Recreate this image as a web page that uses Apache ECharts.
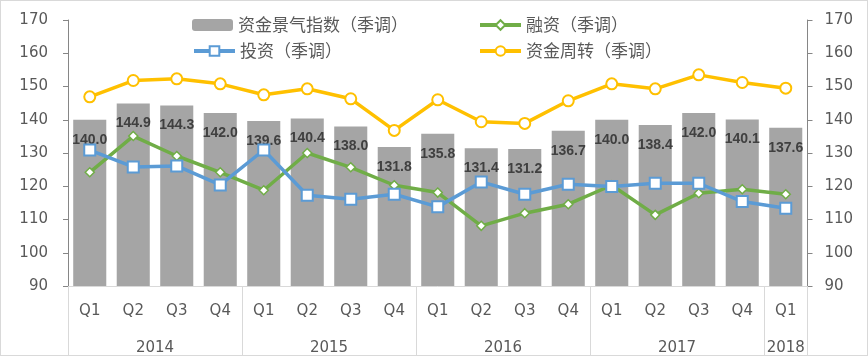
<!DOCTYPE html>
<html><head><meta charset="utf-8">
<script src="https://cdn.jsdelivr.net/npm/echarts@6/dist/echarts.min.js"></script>
<style>
html,body{margin:0;padding:0;background:#fff;}
#wrap{position:relative;width:868px;height:356px;}
#c{width:868px;height:356px;}
#frame{position:absolute;left:0;top:0;width:868px;height:356px;box-sizing:border-box;border:1px solid #d9d9d9;pointer-events:none;}
</style></head>
<body><div id="wrap"><div id="c"></div><div id="frame"></div></div>
<script>
const quarters = ['Q1','Q2','Q3','Q4','Q1','Q2','Q3','Q4','Q1','Q2','Q3','Q4','Q1','Q2','Q3','Q4','Q1'];
const years = ['2014','2014','2014','2014','2015','2015','2015','2015','2016','2016','2016','2016','2017','2017','2017','2017','2018'];
const yTicks = [90, 170, 10];
const indexVals = [140.0,144.9,144.3,142.0,139.6,140.4,138.0,131.8,135.8,131.4,131.2,136.7,140.0,138.4,142.0,140.1,137.6];
const financing = [124.2,135.1,129.1,124.2,118.8,130.0,125.7,120.3,118.1,108.1,111.9,114.6,120.3,111.4,117.9,119.1,117.6];
const investment = [130.9,125.8,126.1,120.4,130.9,117.3,116.1,117.6,113.8,121.3,117.6,120.6,119.9,120.9,120.9,115.4,113.4];
const turnover = [146.9,151.8,152.3,150.8,147.5,149.3,146.3,136.8,146.0,139.4,138.9,145.7,150.8,149.3,153.5,151.2,149.5];
const names = ['资金景气指数（季调）','融资（季调）','投资（季调）','资金周转（季调）'];

const chart = echarts.init(document.getElementById('c'));
const numFont = 'DejaVu Sans';
const cjkFont = 'Noto Sans CJK SC';
const legendText = {fontFamily: cjkFont, fontSize: 17, color: '#595959', lineHeight: 22};
function lg(name, left, top){
  return {data:[name], left:left, top:top, padding:0, itemWidth:41, itemHeight:12, itemGap:0,
    textStyle: legendText, selectedMode:false, lineStyle:{width:4}};
}
const option = {
  animation:false,
  backgroundColor:'#fff',
  grid:{left:68, right:60.5, top:20, bottom:69},
  legend:[lg(names[0],192,14), lg(names[1],478,14), lg(names[2],192,40), lg(names[3],478,40)],
  xAxis:[
    {type:'category', data:quarters, position:'bottom',
     axisLine:{show:true, lineStyle:{color:'#d9d9d9', width:1}},
     axisTick:{show:false},
     axisLabel:{interval:0, margin:18, fontFamily:numFont, fontSize:15, color:'#595959'}},
    {type:'category', data:years, position:'bottom',
     axisLine:{show:false}, axisTick:{show:false},
     axisLabel:{interval:0, margin:55, fontFamily:numFont, fontSize:15, color:'#595959',
       formatter:function(v, i){
         if (i===1||i===5||i===9||i===13) return '{s|'+v+'}';
         if (i===16) return v;
         return '';
       },
       rich:{s:{fontFamily:numFont, fontSize:15, color:'#595959', padding:[0,0,0,43.5]}}}},
    {type:'value', min:0, max:17, interval:4, position:'bottom',
     axisLine:{show:false}, axisLabel:{show:false}, splitLine:{show:false},
     axisTick:{show:true, length:69, lineStyle:{color:'#d9d9d9', width:1}}}
  ],
  yAxis:[
    {type:'value', min:yTicks[0], max:yTicks[1], interval:yTicks[2], position:'left',
     axisLine:{show:true, lineStyle:{color:'#868686'}},
     axisTick:{show:true, length:5, lineStyle:{color:'#868686'}},
     splitLine:{show:false},
     axisLabel:{margin:20, fontFamily:numFont, fontSize:15, color:'#595959'}},
    {type:'value', min:yTicks[0], max:yTicks[1], interval:yTicks[2], position:'right',
     axisLine:{show:true, lineStyle:{color:'#868686'}},
     axisTick:{show:true, length:5, lineStyle:{color:'#868686'}},
     splitLine:{show:false},
     axisLabel:{margin:17, fontFamily:numFont, fontSize:15, color:'#595959'}}
  ],
  series:[
    {name:names[0], type:'bar', data:indexVals, barCategoryGap:'24%',
     itemStyle:{color:'#a5a5a5'},
     label:{show:true, position:'insideTop', distance:13, formatter:function(p){return p.value.toFixed(1);},
       fontFamily:'Liberation Sans', fontWeight:'bold', fontSize:14, color:'#404040'}},
    {name:names[1], type:'line', data:financing, symbol:'diamond', symbolSize:9,
     lineStyle:{color:'#70ad47', width:3.5}, itemStyle:{color:'#fff', borderColor:'#70ad47', borderWidth:1.5}},
    {name:names[2], type:'line', data:investment, symbol:'rect', symbolSize:11,
     lineStyle:{color:'#5b9bd5', width:3.5}, itemStyle:{color:'#fff', borderColor:'#5b9bd5', borderWidth:2}},
    {name:names[3], type:'line', data:turnover, symbol:'circle', symbolSize:11,
     lineStyle:{color:'#ffc000', width:3.5}, itemStyle:{color:'#fff', borderColor:'#ffc000', borderWidth:2}}
  ]
};
chart.setOption(option);
</script></body></html>
